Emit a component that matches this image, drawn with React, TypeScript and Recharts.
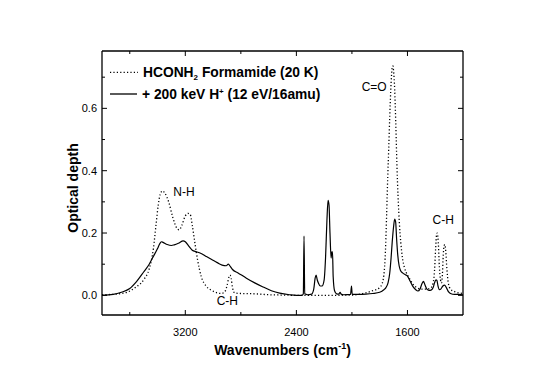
import React from "react";
import { LineChart, Line, XAxis, YAxis, ReferenceDot } from "recharts";

// HCONH2 formamide at 20 K (dotted)
const formamideWn = [
  3800, 3700, 3620, 3560, 3500, 3460, 3430, 3410, 3395, 3380, 3365, 3350, 3320, 3290,
  3260, 3244, 3225, 3200, 3180, 3165, 3150, 3130, 3110, 3085, 3050, 3010, 2970, 2940,
  2915, 2900, 2885, 2878, 2870, 2860, 2845, 2800, 2700, 2600, 2500, 2400, 2200, 2000,
  1900, 1850, 1800, 1785, 1775, 1765, 1757, 1750, 1742, 1735, 1727, 1718, 1710, 1705,
  1700, 1692, 1684, 1676, 1668, 1658, 1648, 1636, 1622, 1600, 1580, 1560, 1530, 1500,
  1460, 1430, 1415, 1405, 1397, 1390, 1385, 1378, 1370, 1362, 1355, 1348, 1342, 1336,
  1330, 1324, 1316, 1306, 1290, 1260, 1230, 1200,
];
const formamideOd = [
  0.002, 0.004, 0.01, 0.025, 0.05, 0.085, 0.15, 0.23, 0.29, 0.325, 0.335, 0.33, 0.3, 0.25,
  0.215, 0.21, 0.225, 0.255, 0.263, 0.26, 0.225, 0.165, 0.11, 0.06, 0.03, 0.016, 0.008, 0.006,
  0.012, 0.03, 0.06, 0.065, 0.055, 0.025, 0.008, 0.006, 0.005, 0.002, 0.001, 0.0, 0.0, 0.001,
  0.008, 0.015, 0.025, 0.035, 0.05, 0.09, 0.16, 0.26, 0.38, 0.47, 0.58, 0.68, 0.73, 0.736,
  0.72, 0.66, 0.55, 0.42, 0.32, 0.23, 0.17, 0.12, 0.09, 0.065, 0.05, 0.035, 0.024, 0.02,
  0.02, 0.025, 0.04, 0.08, 0.15, 0.195, 0.2, 0.17, 0.09, 0.05, 0.04, 0.07, 0.13, 0.16,
  0.163, 0.14, 0.085, 0.04, 0.02, 0.012, 0.008, 0.006,
];

// + 200 keV H+ (solid)
const irradiatedWn = [
  3800, 3720, 3660, 3600, 3550, 3500, 3460, 3430, 3400, 3385, 3372, 3360, 3330, 3300,
  3280, 3250, 3215, 3200, 3175, 3150, 3120, 3090, 3050, 3010, 2970, 2935, 2905, 2890,
  2875, 2860, 2820, 2760, 2700, 2640, 2580, 2520, 2450, 2400, 2360, 2350, 2345, 2340,
  2320, 2290, 2275, 2265, 2258, 2250, 2240, 2228, 2215, 2200, 2190, 2180, 2172, 2165,
  2158, 2150, 2145, 2140, 2135, 2125, 2110, 2095, 2085, 2078, 2060, 2010, 2003, 1998,
  1950, 1900, 1850, 1800, 1770, 1755, 1740, 1728, 1718, 1710, 1700, 1692, 1685, 1678,
  1670, 1660, 1650, 1635, 1615, 1600, 1580, 1560, 1540, 1525, 1510, 1495, 1485, 1475,
  1460, 1445, 1430, 1415, 1405, 1395, 1388, 1380, 1370, 1360, 1345, 1333, 1320, 1305,
  1290, 1260, 1230, 1200,
];
const irradiatedOd = [
  0.0, 0.003, 0.01, 0.022, 0.045, 0.075, 0.1, 0.125, 0.15, 0.165, 0.172, 0.17, 0.163, 0.16,
  0.162, 0.167, 0.175, 0.172, 0.158, 0.145, 0.14, 0.135, 0.125, 0.115, 0.105, 0.097, 0.095, 0.1,
  0.092, 0.083, 0.072, 0.055, 0.04, 0.027, 0.015, 0.007, 0.002, 0.0, 0.0, 0.005, 0.19, 0.005,
  0.002, 0.004, 0.02, 0.055, 0.065, 0.05, 0.038, 0.03, 0.03, 0.05, 0.12, 0.24, 0.305, 0.29,
  0.2, 0.12, 0.14, 0.14, 0.06, 0.015, 0.005, 0.004, 0.01, 0.004, 0.002, 0.003, 0.03, 0.003,
  0.003, 0.004, 0.006, 0.01, 0.018, 0.025, 0.04, 0.07, 0.12, 0.17, 0.22, 0.245, 0.235, 0.18,
  0.13, 0.095, 0.08, 0.072, 0.066, 0.062, 0.045, 0.028, 0.018, 0.014, 0.02, 0.038, 0.045, 0.035,
  0.02, 0.016, 0.017, 0.025, 0.04, 0.05, 0.048, 0.03, 0.018, 0.02, 0.03, 0.033, 0.025, 0.012,
  0.006, 0.003, 0.003, 0.002,
];

const xTicks = [3600, 3200, 2800, 2400, 2000, 1600];
const xMajor = [3200, 2400, 1600];
const yTicks = [0, 0.1, 0.2, 0.3, 0.4, 0.5, 0.6, 0.7];
const yMajor = [0, 0.2, 0.4, 0.6];

const bandLabels = ["N-H", "C-H", "C=O", "C-H"];
const bandWn = [3210, 2897, 1840, 1342];
const bandOd = [0.331, -0.016, 0.668, 0.244];

const FONT = "'Liberation Sans', Arial, Helvetica, sans-serif";

const formamideData = formamideWn.map((wn, i) => ({ wn, od: formamideOd[i] }));
const irradiatedData = irradiatedWn.map((wn, i) => ({ wn, od: irradiatedOd[i] }));

const isMajor = (list: number[], v: number) => list.some(m => Math.abs(m - v) < 1e-6);

const BottomTick = (props: any) => {
  const { x, y, payload } = props;
  const major = isMajor(xMajor, payload.value);
  return (
    <g>
      <line x1={x} y1={y} x2={x} y2={y - (major ? 5 : 3)} stroke="#000" strokeWidth={1} />
      {major && (
        <text x={x} y={y + 17} dy="0.35em" textAnchor="middle" fontSize={11} fontFamily={FONT} fill="#000">
          {payload.value}
        </text>
      )}
    </g>
  );
};

const TopTick = (props: any) => {
  const { x, y, payload } = props;
  const major = isMajor(xMajor, payload.value);
  return <line x1={x} y1={y} x2={x} y2={y + (major ? 5 : 3)} stroke="#000" strokeWidth={1} />;
};

const LeftTick = (props: any) => {
  const { x, y, payload } = props;
  const major = isMajor(yMajor, payload.value);
  return (
    <g>
      <line x1={x} y1={y} x2={x + (major ? 5 : 3)} y2={y} stroke="#000" strokeWidth={1} />
      {major && (
        <text x={x - 5} y={y} dy="0.35em" textAnchor="end" fontSize={11} fontFamily={FONT} fill="#000">
          {payload.value.toFixed(1)}
        </text>
      )}
    </g>
  );
};

const RightTick = (props: any) => {
  const { x, y, payload } = props;
  const major = isMajor(yMajor, payload.value);
  return <line x1={x} y1={y} x2={x - (major ? 5 : 3)} y2={y} stroke="#000" strokeWidth={1} />;
};

const XTitle = (props: any) => {
  const vb = props.viewBox || {};
  return (
    <text x={vb.x + vb.width / 2} y={vb.y + 35} dy="0.35em" textAnchor="middle" fontSize={14} fontWeight="bold" fontFamily={FONT} fill="#000">
      Wavenumbers (cm
      <tspan fontSize={9} dy="-6">-1</tspan>
      <tspan dy="6">)</tspan>
    </text>
  );
};

const YTitle = (props: any) => {
  const vb = props.viewBox || {};
  const cx = vb.x + vb.width - 29;
  const cy = vb.y + vb.height / 2 + 5;
  return (
    <text x={cx} y={cy} dy="0.35em" textAnchor="middle" transform={`rotate(-90, ${cx}, ${cy})`} fontSize={14} fontWeight="bold" fontFamily={FONT} fill="#000">
      Optical depth
    </text>
  );
};

function LegendBox() {
  return (
    <svg width={260} height={50} style={{ position: "absolute", left: 100, top: 60, overflow: "visible" }}>
      <line x1={10} y1={12.3} x2={38} y2={12.3} stroke="#000" strokeWidth={1.3} strokeDasharray="1.2 2.2" />
      <text x={43} y={17} fontSize={13.8} fontWeight="bold" fontFamily={FONT} fill="#000">
        HCONH<tspan fontSize={8} dy="3">2</tspan><tspan dy="-3"> Formamide (20 K)</tspan>
      </text>
      <line x1={10} y1={34} x2={37} y2={34} stroke="#000" strokeWidth={1.3} />
      <text x={42} y={38.7} fontSize={13.8} fontWeight="bold" fontFamily={FONT} fill="#000">
        + 200 keV H<tspan fontSize={8} dy="-5">+</tspan><tspan dy="5"> (12 eV/16amu)</tspan>
      </text>
    </svg>
  );
}

export default function App() {
  return (
    <div style={{ position: "absolute", left: 0, top: 0, width: 545, height: 385, background: "#fff" }}>
      <LineChart width={545} height={385} margin={{ top: 41, right: 72, bottom: 20, left: 62 }}>
        <XAxis
          dataKey="wn" type="number" domain={[1200, 3800]} reversed allowDataOverflow
          ticks={xTicks} interval={0} height={50} tickSize={0} tickMargin={0} tickLine={false}
          axisLine={{ stroke: "#000", strokeWidth: 1.3 }} tick={<BottomTick />} label={<XTitle />}
        />
        <XAxis
          xAxisId="top" orientation="top" dataKey="wn" type="number" domain={[1200, 3800]} reversed allowDataOverflow
          ticks={xTicks} interval={0} height={10} tickSize={0} tickMargin={0} tickLine={false}
          axisLine={{ stroke: "#000", strokeWidth: 1.3 }} tick={<TopTick />}
        />
        <YAxis
          type="number" domain={[-0.063, 0.784]} allowDataOverflow ticks={yTicks} interval={0}
          width={40} tickSize={0} tickMargin={0} tickLine={false}
          axisLine={{ stroke: "#000", strokeWidth: 1.3 }} tick={<LeftTick />} label={<YTitle />}
        />
        <YAxis
          yAxisId="right" orientation="right" type="number" domain={[-0.063, 0.784]} allowDataOverflow
          ticks={yTicks} interval={0} width={10} tickSize={0} tickMargin={0} tickLine={false}
          axisLine={{ stroke: "#000", strokeWidth: 1.3 }} tick={<RightTick />}
        />
        <Line
          data={formamideData} dataKey="od" type="monotone" stroke="#000" strokeWidth={1.3}
          strokeDasharray="1.2 2.2" dot={false} isAnimationActive={false}
        />
        <Line
          data={irradiatedData} dataKey="od" type="monotone" stroke="#000" strokeWidth={1.2}
          dot={false} isAnimationActive={false}
        />
        {bandLabels.map((lab, i) => (
          <ReferenceDot
            key={i} x={bandWn[i]} y={bandOd[i]} r={0} fill="none" stroke="none" ifOverflow="visible"
            label={{ value: lab, position: "center", fontSize: 12, fontFamily: FONT, fill: "#000" }}
          />
        ))}
      </LineChart>
      <LegendBox />
    </div>
  );
}
